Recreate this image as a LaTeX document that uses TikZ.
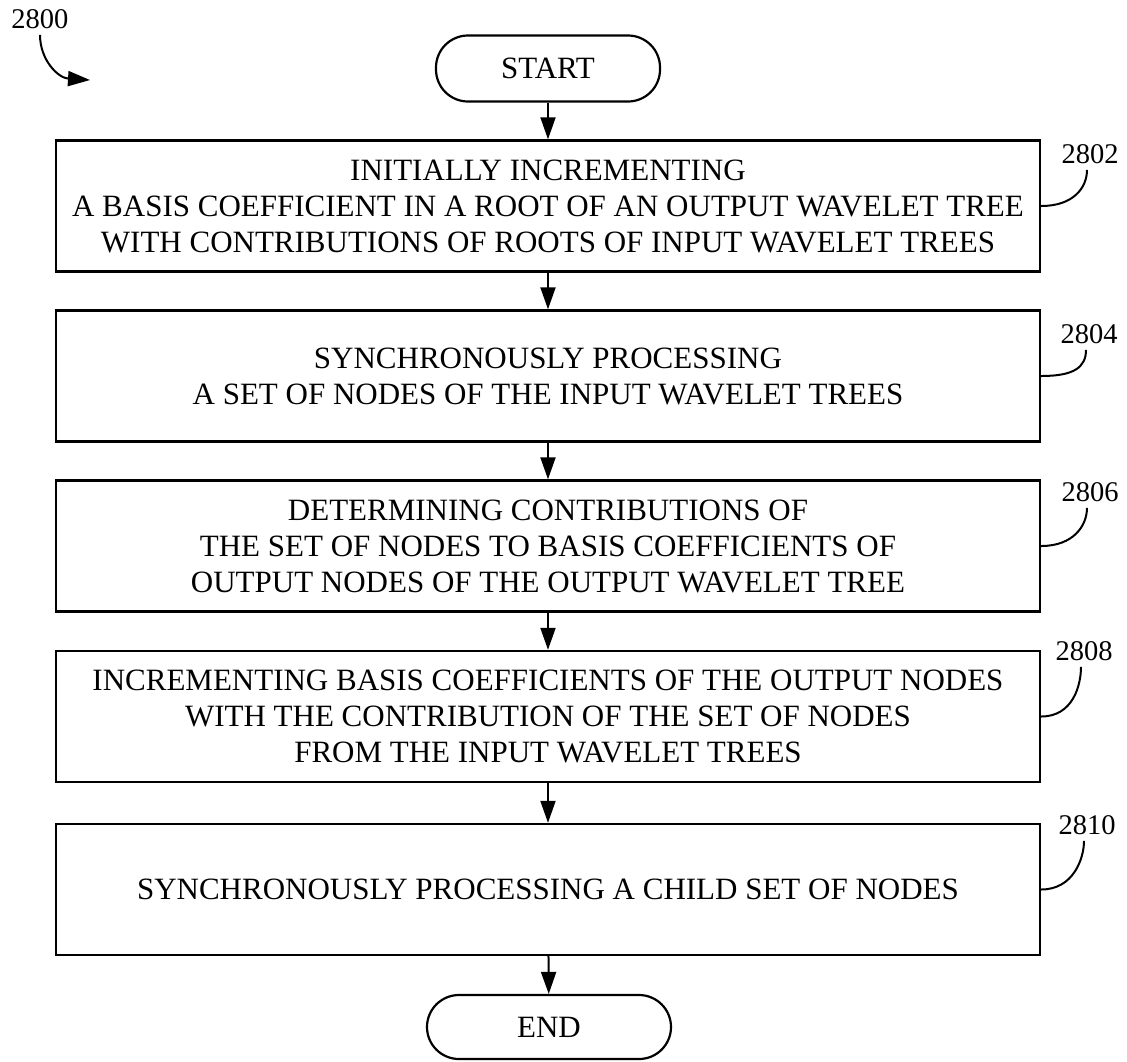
\documentclass[tikz,border=0pt]{standalone}
\usepackage{fontspec}
\setmainfont{Liberation Serif}
\usetikzlibrary{arrows.meta}

\begin{document}
\begin{tikzpicture}[x=1pt,y=-1pt,
  stepbox/.style={draw=black,line width=2.4pt,minimum width=984pt,minimum height=131pt,align=center,inner sep=0pt,font=\fontsize{31}{36}\selectfont},
  term/.style={draw=black,line width=2.2pt,rounded corners=32pt,minimum width=224pt,minimum height=66pt,font=\fontsize{31}{36}\selectfont},
  reflabel/.style={font=\fontsize{28.5}{30}\selectfont,inner sep=6pt},
  flow/.style={-{Triangle[length=22pt,width=15pt]},line width=2pt},
  refline/.style={line width=2pt}]
\useasboundingbox (0,0) rectangle (1127,1061);
\node[term] (start) at (548,68.5) {START};
\node[stepbox] (b1) at (548,206) {INITIALLY INCREMENTING\\A BASIS COEFFICIENT IN A ROOT OF AN OUTPUT WAVELET TREE\\WITH CONTRIBUTIONS OF ROOTS OF INPUT WAVELET TREES};
\node[stepbox] (b2) at (548,376) {SYNCHRONOUSLY PROCESSING\\A SET OF NODES OF THE INPUT WAVELET TREES};
\node[stepbox] (b3) at (548,546) {DETERMINING CONTRIBUTIONS OF\\THE SET OF NODES TO BASIS COEFFICIENTS OF\\OUTPUT NODES OF THE OUTPUT WAVELET TREE};
\node[stepbox] (b4) at (548,716.5) {INCREMENTING BASIS COEFFICIENTS OF THE OUTPUT NODES\\WITH THE CONTRIBUTION OF THE SET OF NODES\\FROM THE INPUT WAVELET TREES};
\node[stepbox] (b5) at (548,889.5) {SYNCHRONOUSLY PROCESSING A CHILD SET OF NODES};
\node[term,minimum width=244pt,minimum height=64pt] (end) at (549,1027) {END};
\path[flow] (start) edge (b1);
\path[flow] (b1) edge (b2);
\path[flow] (b2) edge (b3);
\path[flow] (b3) edge (b4);
\path[flow] (b4) edge (b5);
\path[flow] (b5) edge (end);
% reference numerals
\node[reflabel] (l2800) at (40,19) {2800};
\coordinate (a2800) at (90,80);
\draw[flow] (l2800.south) .. controls (40,60) and (58,78) .. (a2800);
\node[reflabel] (l2802) at (1090,154) {2802};
\node[reflabel] (l2804) at (1089,334) {2804};
\node[reflabel] (l2806) at (1090,492) {2806};
\node[reflabel] (l2808) at (1084,651) {2808};
\node[reflabel] (l2810) at (1087,825) {2810};
\foreach \b/\l in {b1/l2802,b2/l2804,b3/l2806,b4/l2808,b5/l2810}
  \draw[refline] (\b.east) .. controls +(32,0) and +(0,18) .. ([xshift=-3pt]\l.south);
\end{tikzpicture}
\end{document}
